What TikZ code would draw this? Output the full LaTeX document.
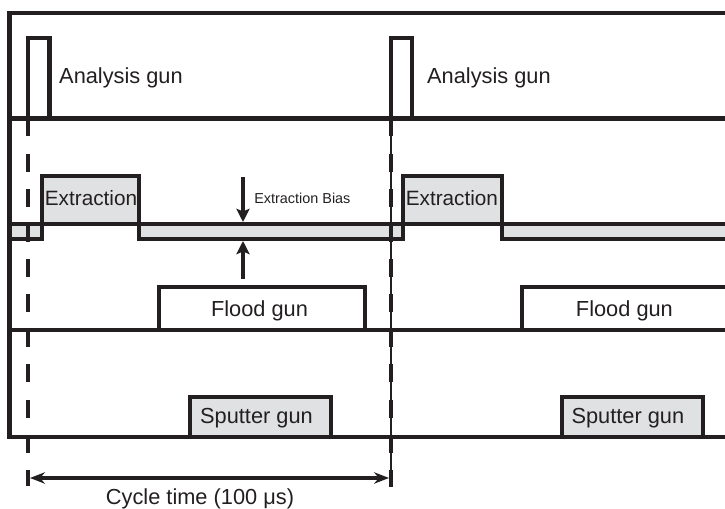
\documentclass[tikz,border=0pt]{standalone}
\usepackage{fontspec}
\setmainfont{Liberation Sans}
\usetikzlibrary{positioning, arrows.meta}
\definecolor{inkdark}{HTML}{231F20}
\definecolor{pulsegrey}{HTML}{E0E1E3}

\begin{document}
\begin{tikzpicture}
    [
        x=0.02cm, y=-0.02cm, on grid,
        trace/.style={draw=inkdark, line width=2.5pt, line join=miter},
        cycle_dash/.style={draw=inkdark, line width=2.8pt, dash pattern=on 10.2pt off 9.8pt},
        hair_line/.style={draw=inkdark, line width=0.6pt},
        bias_arrow/.style={draw=inkdark, line width=2.7pt, -{Stealth[length=7.5pt, width=7.5pt, inset=1.5pt]}},
        span_arrow/.style={draw=inkdark, line width=2pt, {Stealth[length=8.5pt, width=6.5pt]}-{Stealth[length=8.5pt, width=6.5pt]}},
        gun_label/.style={text=inkdark, inner sep=0pt, font=\fontsize{12.4pt}{14pt}\selectfont},
        small_label/.style={text=inkdark, inner sep=0pt, font=\fontsize{8.2pt}{10pt}\selectfont},
    ]
        \clip (0,0) rectangle (725,509) ;
        \fill[pulsegrey] (9.6,239) -- (42,239) -- (42,176) -- (139,176) -- (139,239) -- (403,239) -- (403,176) -- (502,176) -- (502,239) -- (730,239) -- (730,224) -- (9.6,224) -- cycle ;
        \fill[pulsegrey] (190,437) rectangle (331,397) ;
        \fill[pulsegrey] (562,437) rectangle (703,397) ;
        \draw[trace] (730,13) -- (9.6,13) -- (9.6,437) -- (730,437) ;
        \draw[trace] (9.6,118.5) -- (730,118.5) ;
        \draw[trace] (9.6,224) -- (730,224) ;
        \draw[trace] (9.6,330) -- (730,330) ;
        \draw[trace] (28,118.5) -- (28,38) -- (49.5,38) -- (49.5,118.5) ;
        \draw[trace] (391,118.5) -- (391,38) -- (412,38) -- (412,118.5) ;
        \draw[trace] (9.6,239) -- (42,239) -- (42,176) -- (139,176) -- (139,239) -- (403,239) -- (403,176) -- (502,176) -- (502,239) -- (730,239) ;
        \draw[trace] (159,330) -- (159,287) -- (365,287) -- (365,330) ;
        \draw[trace] (522,330) -- (522,287) -- (735,287) ;
        \draw[trace] (190,437) -- (190,397) -- (331,397) -- (331,437) ;
        \draw[trace] (562,437) -- (562,397) -- (703,397) -- (703,437) ;
        \draw[cycle_dash] (28,118.5) -- (28,486) ;
        \draw[hair_line] (391,118.5) -- (391,487) ;
        \draw[cycle_dash] (391,118.5) -- (391,487) ;
        \node[gun_label, anchor=base] (analysis_a) at (121,84) {Analysis gun} ;
        \node[gun_label] (analysis_b) [right = 7.36cm of analysis_a] {Analysis gun} ;
        \node[gun_label, font=\fontsize{11.8pt}{14pt}\selectfont, anchor=base] (extraction_a) at (91,206) {Extraction} ;
        \node[gun_label, font=\fontsize{11.8pt}{14pt}\selectfont] (extraction_b) [right = 7.22cm of extraction_a] {Extraction} ;
        \node[small_label, anchor=base west] (bias) at (254,204) {Extraction Bias} ;
        \node[gun_label, anchor=base] (flood_a) at (259.5,317) {Flood gun} ;
        \node[gun_label] (flood_b) [right = 7.3cm of flood_a] {Flood gun} ;
        \node[gun_label, anchor=base] (sputter_a) at (256.5,424) {Sputter gun} ;
        \node[gun_label] (sputter_b) [right = 7.43cm of sputter_a] {Sputter gun} ;
        \node[gun_label, anchor=base] (cycle) at (200,505) {Cycle time (100 μs)} ;
        \coordinate (bias_from_top) at (243,177) ;
        \coordinate (bias_to_top) at (243,222) ;
        \coordinate (bias_from_bot) at (243,279) ;
        \coordinate (bias_to_bot) at (243,241) ;
        \coordinate (cycle_start) at (30,478) ;
        \coordinate (cycle_end) at (389,478) ;
        \draw[bias_arrow] (bias_from_top) -- (bias_to_top) ;
        \draw[bias_arrow] (bias_from_bot) -- (bias_to_bot) ;
        \draw[span_arrow] (cycle_start) -- (cycle_end) ;
    \end{tikzpicture}
\end{document}
